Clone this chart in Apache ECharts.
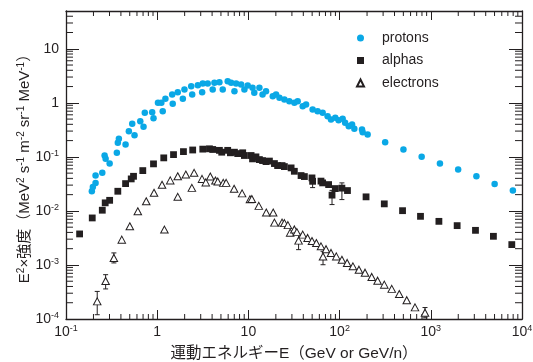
<!DOCTYPE html>
<html><head><meta charset="utf-8">
<script src="https://cdn.jsdelivr.net/npm/echarts@6/dist/echarts.min.js"></script>
<style>html,body{margin:0;padding:0;background:#fff}#c{width:533px;height:362px}</style>
</head><body><div id="c"></div>
<script>
// ---- data (kinetic energy in GeV or GeV/n, E^2 x intensity) ----
const protonE = [0.192,0.197,0.211,0.211,0.250,0.265,0.272,0.301,0.361,0.370,
  0.380,0.450,0.489,0.532,0.564,0.652,0.708,0.731,0.881,0.911,
  1.02,1.11,1.15,1.23,1.46,1.48,1.68,1.91,1.99,2.36,
  2.42,2.79,3.11,3.16,3.58,4.06,4.24,4.81,5.23,5.93,
  6.47,7.03,7.33,8.32,9.04,9.82,11.1,11.6,13.2,14.3,
  15.6,18.5,20.1,21.9,24.8,28.1,31.9,34.7,39.4,42.9,
  50.6,57.4,65.2,73.9,80.5,89.7,97.5,108,115,126,
  137,145,176,179,203,316,501,794,1259,1995,
  3162,5012,7943];
const protonF = [0.0231,0.0278,0.0330,0.0451,0.0506,0.106,0.0918,0.0752,0.119,0.182,
  0.216,0.169,0.298,0.408,0.251,0.456,0.360,0.653,0.670,0.519,
  1.0,1.0,0.699,1.19,1.43,0.958,1.57,1.19,1.76,2.03,
  1.43,2.12,1.57,2.28,2.28,1.76,2.35,2.41,1.76,2.51,
  2.35,1.64,2.28,2.18,1.76,2.09,1.90,1.53,1.90,1.43,
  1.64,1.33,1.43,1.24,1.15,1.07,1.0,1.07,0.865,0.930,
  0.751,0.699,0.653,0.565,0.491,0.527,0.476,0.506,0.426,0.369,
  0.396,0.330,0.320,0.285,0.259,0.186,0.137,0.100,0.0752,0.0582,
  0.0437,0.0316,0.0238];
const alphaE = [0.141,0.194,0.250,0.269,0.301,0.370,0.450,0.519,0.550,0.695,
  0.911,1.18,1.51,1.94,2.45,3.16,3.74,4.06,4.81,5.10,
  5.93,6.35,7.03,7.63,8.66,9.04,10.7,11.1,12.1,13.2,
  14.3,15.6,17.0,19.3,20.9,23.4,24.8,29.4,31.9,37.8,
  41.1,49.8,50.6,62.5,65.2,75.8,82.6,89.7,106,122,
  195,309,490,771,1227,1945,3090,4860,7730];
const alphaF = [0.00375,0.00741,0.0103,0.0141,0.0157,0.0231,0.0320,0.0391,0.0437,0.0557,
  0.0742,0.0958,0.110,0.125,0.134,0.139,0.141,0.137,0.132,0.122,
  0.132,0.119,0.122,0.115,0.119,0.106,0.106,0.0918,0.100,0.0891,
  0.0854,0.0818,0.0836,0.0752,0.0690,0.0690,0.0661,0.0625,0.0541,0.0451,
  0.0432,0.0408,0.0353,0.0356,0.0330,0.0307,0.0196,0.0259,0.0264,0.0238,
  0.0182,0.0135,0.0101,0.00794,0.00641,0.00534,0.00437,0.00339,0.00238];
const electronE = [0.220,0.272,0.335,0.409,0.501,0.613,0.758,0.923,1.13,1.20,
  1.39,1.68,1.68,2.06,2.40,2.54,3.10,3.41,3.82,4.35,
  4.61,5.30,5.70,6.97,8.53,10.4,10.9,13.0,15.7,18.7,
  19.3,23.4,24.8,27.1,28.7,31.9,34.0,35.5,39.4,44.6,
  49.8,55.6,62.5,65.8,71.0,80.5,92.0,106,121,140,
  163,190,225,261,309,373,451,545,671,864];
const electronF = [0.000212,0.000506,0.00135,0.00294,0.00519,0.00984,0.0151,0.0216,0.0304,0.00451,
  0.0367,0.0437,0.0182,0.0470,0.0267,0.0506,0.0391,0.0337,0.0432,0.0364,
  0.0349,0.0330,0.0330,0.0257,0.0211,0.0164,0.0166,0.0124,0.00931,0.00931,
  0.00607,0.00607,0.00594,0.00546,0.00396,0.00454,0.00405,0.00282,0.00364,0.00316,
  0.00278,0.00255,0.00221,0.00143,0.00196,0.00167,0.00144,0.00125,0.00109,0.000942,
  0.000818,0.000720,0.000600,0.000512,0.000432,0.000361,0.000290,0.000223,0.000164,0.000131];
// error bars: energy, low, high
const errE  = [0.220,0.272,0.335,35.5,65.8,864,82.6,106,50.6];
const errLo = [0.000120,0.000360,0.00109,0.00192,0.00101,0.000105,0.0131,0.0162,0.027];
const errHi = [0.000324,0.000661,0.00167,0.0037,0.00179,0.000163,0.024,0.0330,0.040];
// axis ticks
const xTickExps = [-1,0,1,2,3,4];
const yTickExps = [-4,-3,-2,-1,0,1];
const minorMult = [2,3,4,5,6,7,8,9];
const xRange = [0.1, 10000];
const yRange = [0.0001, 50];
const seriesNames = ['protons','alphas','electrons'];

const INK = '#231f20';
const CYAN = '#0aa8e6';
const FONT = '"Liberation Sans", Arial, "Noto Sans CJK JP", sans-serif';

function zip(a, b) { return a.map((v, i) => [v, b[i]]); }
function expLabel(exps) {
  return function (v) {
    const e = Math.round(Math.log10(v));
    if (Math.abs(v / Math.pow(10, e) - 1) > 1e-6 || exps.indexOf(e) < 0) return '';
    if (e === 0) return '1';
    if (e === 1) return '10';
    return '10{sup|' + e + '}';
  };
}
function minorValues(range) {
  const out = [];
  const e0 = Math.floor(Math.log10(range[0])), e1 = Math.ceil(Math.log10(range[1]));
  for (let e = e0; e <= e1; e++) minorMult.forEach(m => {
    const v = m * Math.pow(10, e);
    if (v > range[0] && v < range[1]) out.push(v);
  });
  return out;
}
const xMinor = minorValues(xRange).map(v => [v, 1]);
const yMinor = minorValues(yRange).map(v => [1, v]);

const supStyle = { fontSize: 9, verticalAlign: 'top', lineHeight: 9, fontFamily: FONT, color: INK };
const supName = { fontSize: 10, verticalAlign: 'top', lineHeight: 10, fontFamily: FONT, color: INK };

function axisCommon() {
  return {
    type: 'log', logBase: 10, interval: 1,
    axisLine: { show: true, lineStyle: { color: INK, width: 1.3 } },
    splitLine: { show: false },
    minorTick: { show: false },
  };
}

const chart = echarts.init(document.getElementById('c'), null, { renderer: 'canvas' });
chart.setOption({
  animation: false,
  backgroundColor: '#fff',
  textStyle: { fontFamily: FONT },
  grid: { left: 66, right: 11, top: 11, bottom: 43, containLabel: false, outerBoundsMode: 'none' },
  legend: {
    orient: 'vertical', left: 351, top: 26, itemGap: 8.5,
    itemWidth: 7, itemHeight: 7,
    data: seriesNames,
    textStyle: { fontSize: 14, color: INK, fontFamily: FONT, lineHeight: 14, padding: [0, 0, 0, 13] },
    selectedMode: false,
  },
  xAxis: [
    Object.assign(axisCommon(), {
      position: 'bottom', min: xRange[0], max: xRange[1],
      axisTick: { show: true, inside: true, length: 9, lineStyle: { color: INK, width: 1 } },
      axisLabel: { show: true, margin: 5, fontSize: 14, lineHeight: 16, color: INK, fontFamily: FONT,
        formatter: expLabel(xTickExps), rich: { sup: supStyle } },
      name: '運動エネルギーE（GeV or GeV/n）', nameLocation: 'middle', nameGap: 27,
      nameMoveOverlap: false,
      nameTextStyle: { fontSize: 15.5, color: INK, fontFamily: FONT },
    }),
    Object.assign(axisCommon(), {
      position: 'top', min: xRange[0], max: xRange[1],
      axisTick: { show: true, inside: true, length: 9, lineStyle: { color: INK, width: 1 } },
      axisLabel: { show: false },
    }),
  ],
  yAxis: [
    Object.assign(axisCommon(), {
      position: 'left', min: yRange[0], max: yRange[1],
      axisTick: { show: true, inside: true, length: 13, lineStyle: { color: INK, width: 1 } },
      axisLabel: { show: true, margin: 7, fontSize: 14, lineHeight: 16, color: INK, fontFamily: FONT,
        formatter: expLabel(yTickExps), rich: { sup: supStyle } },
      name: 'E{sup|2}×強度（MeV{sup|2} s{sup|-1} m{sup|-2} sr{sup|-1} MeV{sup|-1}）',
      nameLocation: 'middle', nameGap: 33, nameMoveOverlap: false,
      nameTextStyle: { fontSize: 15, color: INK, fontFamily: FONT, lineHeight: 17, rich: { sup: supName } },
    }),
    Object.assign(axisCommon(), {
      position: 'right', min: yRange[0], max: yRange[1],
      axisTick: { show: true, inside: true, length: 13, lineStyle: { color: INK, width: 1 } },
      axisLabel: { show: false },
    }),
  ],
  series: [
    {
      type: 'custom', silent: true, z: 1, xAxisIndex: 0, yAxisIndex: 0,
      data: xMinor,
      renderItem: function (params, api) {
        const cs = params.coordSys;
        const px = api.coord([api.value(0), 1])[0];
        const b = cs.y + cs.height, t = cs.y, L = 5;
        return { type: 'group', children: [
          { type: 'line', shape: { x1: px, y1: b, x2: px, y2: b - L }, style: { stroke: INK, lineWidth: 1 } },
          { type: 'line', shape: { x1: px, y1: t, x2: px, y2: t + L }, style: { stroke: INK, lineWidth: 1 } },
        ] };
      },
    },
    {
      type: 'custom', silent: true, z: 1, xAxisIndex: 0, yAxisIndex: 0,
      data: yMinor,
      renderItem: function (params, api) {
        const cs = params.coordSys;
        const py = api.coord([1, api.value(1)])[1];
        const l = cs.x, r = cs.x + cs.width, L = 7;
        return { type: 'group', children: [
          { type: 'line', shape: { x1: l, y1: py, x2: l + L, y2: py }, style: { stroke: INK, lineWidth: 1 } },
          { type: 'line', shape: { x1: r, y1: py, x2: r - L, y2: py }, style: { stroke: INK, lineWidth: 1 } },
        ] };
      },
    },
    {
      type: 'custom', silent: true, z: 2, xAxisIndex: 0, yAxisIndex: 0,
      data: errE.map((e, i) => [e, errLo[i], errHi[i]]),
      encode: { x: 0, y: [1, 2] },
      renderItem: function (params, api) {
        const x = api.value(0);
        const a = api.coord([x, api.value(1)]), b = api.coord([x, api.value(2)]);
        const w = 2.5, st = { stroke: INK, lineWidth: 1 };
        return { type: 'group', children: [
          { type: 'line', shape: { x1: a[0], y1: a[1], x2: b[0], y2: b[1] }, style: st },
          { type: 'line', shape: { x1: a[0] - w, y1: a[1], x2: a[0] + w, y2: a[1] }, style: st },
          { type: 'line', shape: { x1: b[0] - w, y1: b[1], x2: b[0] + w, y2: b[1] }, style: st },
        ] };
      },
    },
    {
      name: 'protons', type: 'scatter', z: 3, data: zip(protonE, protonF),
      symbol: 'circle', symbolSize: 6.5, itemStyle: { color: CYAN, opacity: 1 },
    },
    {
      name: 'alphas', type: 'scatter', z: 3, data: zip(alphaE, alphaF),
      symbol: 'rect', symbolSize: 6.8, itemStyle: { color: INK, opacity: 1 },
    },
    {
      name: 'electrons', type: 'scatter', z: 4, data: zip(electronE, electronF),
      symbol: 'triangle', symbolSize: [7.5, 7], itemStyle: { color: '#fff', borderColor: INK, borderWidth: 1, opacity: 1 },
    },
  ],
});
</script></body></html>
